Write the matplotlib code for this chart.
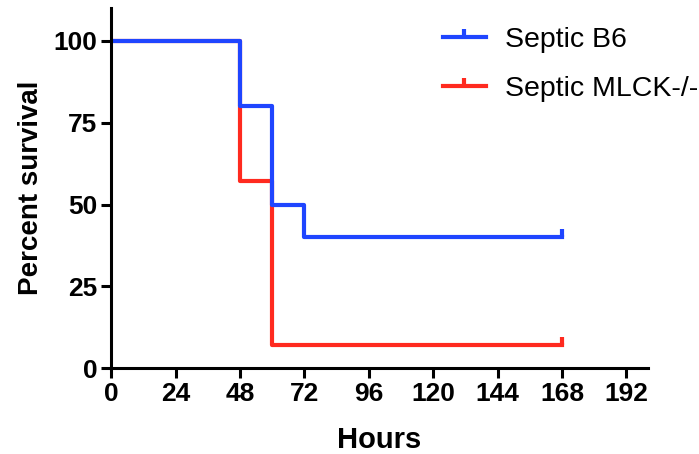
import matplotlib
matplotlib.use("Agg")
import matplotlib.pyplot as plt
from matplotlib.lines import Line2D

plt.rcParams['font.family'] = ['Liberation Sans', 'DejaVu Sans']

# Kaplan-Meier steps (hours, percent survival)
b6_hours = [0, 48, 60, 72, 168]
b6_surv = [100, 80, 50, 40, 40]
mlck_hours = [0, 48, 60, 168]
mlck_surv = [100, 57.1, 7.1, 7.1]

blue = '#1f45ff'
red = '#ff2a1f'

fig = plt.figure(figsize=(6.99, 4.54), dpi=100)
ax = fig.add_axes([0.159, 0.189, 0.768, 0.793])

ax.step(mlck_hours, mlck_surv, where='post', color=red, lw=3)
ax.plot(mlck_hours[-1], mlck_surv[-1], marker=2, color=red, ms=6, mew=3)
ax.step(b6_hours, b6_surv, where='post', color=blue, lw=3)
ax.plot(b6_hours[-1], b6_surv[-1], marker=2, color=blue, ms=6, mew=3)

ax.set_xlim(0, 200)
ax.set_ylim(0, 110)
ax.set_xticks(range(0, 193, 24))
ax.set_yticks([0, 25, 50, 75, 100])
for s in ['top', 'right']:
    ax.spines[s].set_visible(False)
for s in ['left', 'bottom']:
    ax.spines[s].set_linewidth(2.2)
ax.tick_params(width=2.2, length=7, labelsize=19, pad=3)
for lab in ax.get_xticklabels() + ax.get_yticklabels():
    lab.set_fontweight('bold')

ax.set_xlabel('Hours', fontsize=21, fontweight='bold', labelpad=14)
ax.set_ylabel('Percent survival', fontsize=20, fontweight='bold', labelpad=7)

handles = [Line2D([0], [0], color=blue, lw=3, marker=2, ms=6, mew=3),
           Line2D([0], [0], color=red, lw=3, marker=2, ms=6, mew=3)]
fig.legend(handles, ['Septic B6', 'Septic MLCK-/-'], loc='upper left',
           bbox_to_anchor=(0.597, 0.996), frameon=False, fontsize=20.5,
           handlelength=1.5, handletextpad=0.67, labelspacing=0.78,
           numpoints=1)

fig.savefig('out.png', dpi=100)
